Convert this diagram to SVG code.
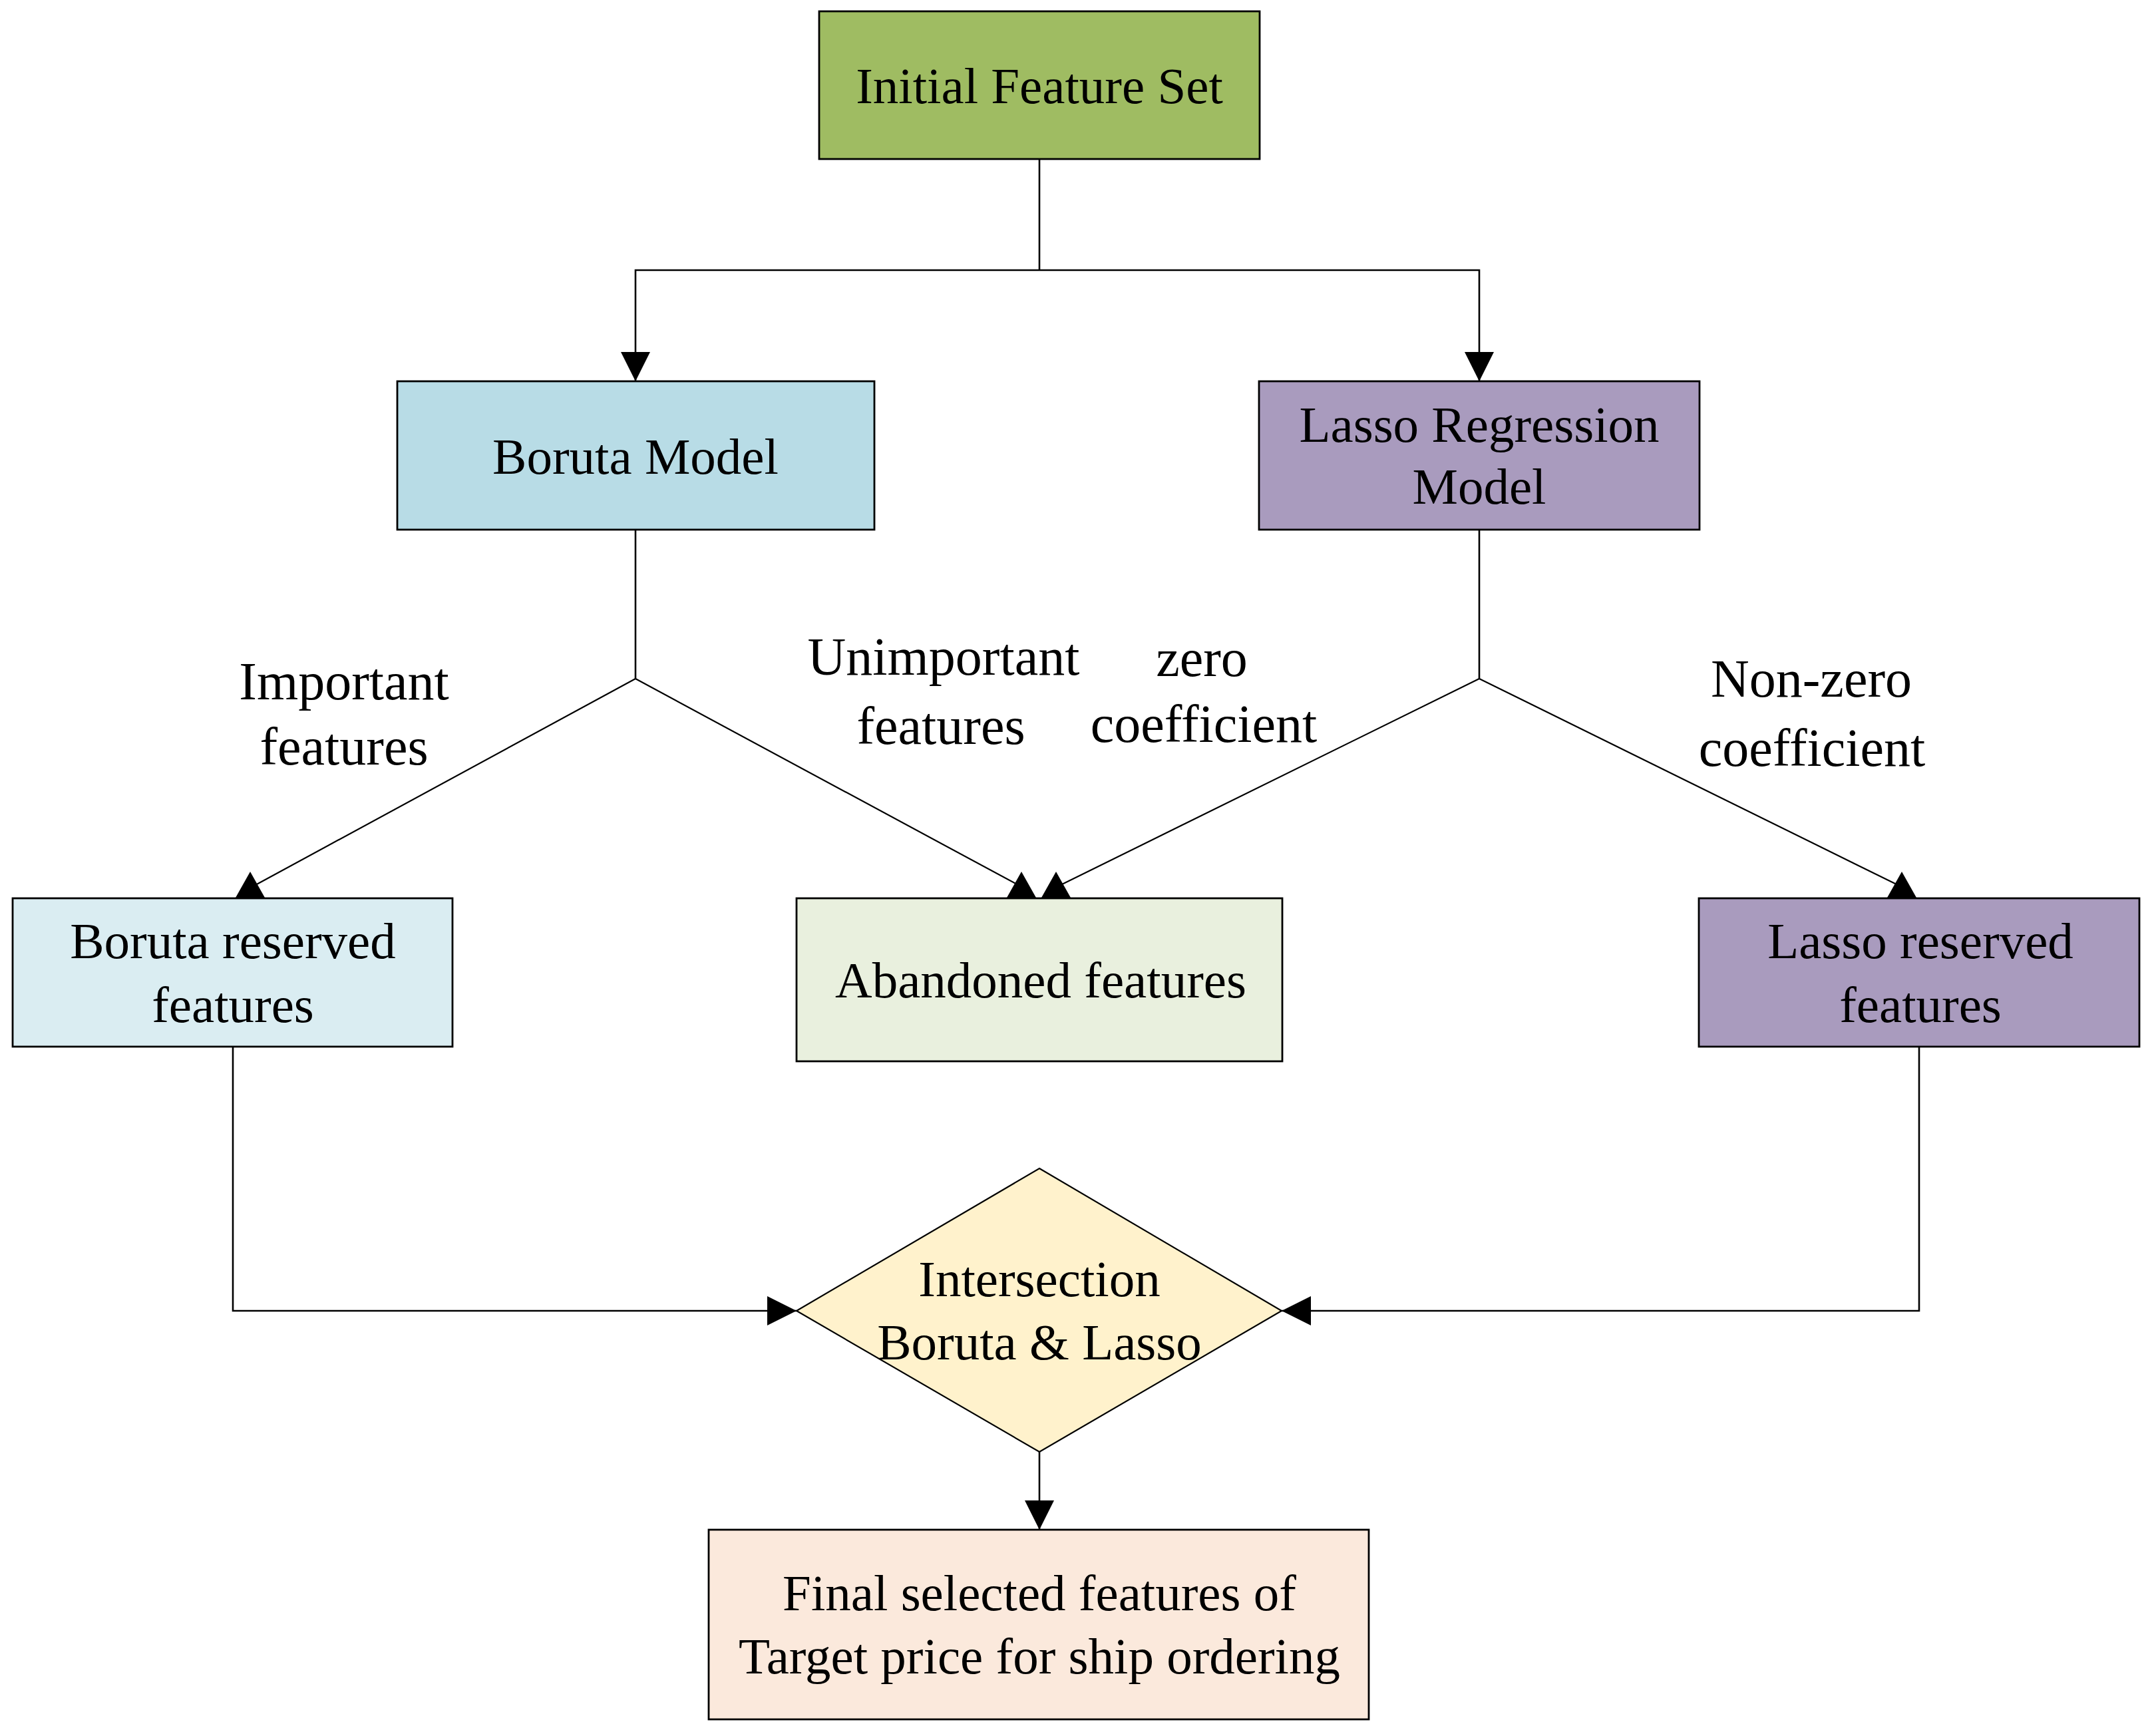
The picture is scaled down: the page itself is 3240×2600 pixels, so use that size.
<svg xmlns="http://www.w3.org/2000/svg" xmlns:xlink="http://www.w3.org/1999/xlink" width="3240" height="2600" viewBox="0 0 3240 2600">
<style>
.box{stroke:#000;stroke-width:2.8}
.t{font-family:"Liberation Serif","Times New Roman",serif;font-size:77px;fill:#000;text-anchor:middle}
.lbl{font-family:"Liberation Serif","Times New Roman",serif;font-size:80px;fill:#000;text-anchor:middle}
.ln{fill:none;stroke:#000;stroke-width:2.6}
.dg{fill:none;stroke:#000;stroke-width:2.2}
</style>
<defs>
<marker id="ah" markerUnits="userSpaceOnUse" markerWidth="44" markerHeight="44" refX="44" refY="22" orient="auto" viewBox="0 0 44 44">
<path d="M0,0 L44,22 L0,44 Z" fill="#000"/>
</marker>
<path id="tri" d="M0,0 L22.5,40 L-22.5,40 Z" fill="#000"/>
</defs>
<rect width="3240" height="2600" fill="#fff"/>
<g id="connectors">
<path class="ln" d="M1562,239 V406"/>
<path class="ln" d="M1562,406 H955 V573" marker-end="url(#ah)"/>
<path class="ln" d="M1562,406 H2223 V573" marker-end="url(#ah)"/>
<path class="ln" d="M955,796 V1020"/>
<path class="ln" d="M2223,796 V1020"/>
<path class="dg" d="M955,1020 L384,1330"/>
<path class="dg" d="M955,1020 L1530,1330"/>
<path class="dg" d="M2223,1020 L1594,1330"/>
<path class="dg" d="M2223,1020 L2852,1330"/>
<use xlink:href="#tri" x="376" y="1310"/>
<use xlink:href="#tri" x="1535" y="1310"/>
<use xlink:href="#tri" x="1587" y="1310"/>
<use xlink:href="#tri" x="2858" y="1310"/>
<path class="ln" d="M350,1573 V1970 H1197" marker-end="url(#ah)"/>
<path class="ln" d="M2884,1573 V1970 H1926" marker-end="url(#ah)"/>
<path class="ln" d="M1562,2182 V2299" marker-end="url(#ah)"/>
<text class="lbl" x="517" y="1051">Important</text>
<text class="lbl" x="517" y="1149">features</text>
<text class="lbl" x="1418" y="1014">Unimportant</text>
<text class="lbl" x="1414" y="1118">features</text>
<text class="lbl" x="1806" y="1016">zero</text>
<text class="lbl" x="1809" y="1115">coefficient</text>
<text class="lbl" x="2722" y="1047">Non-zero</text>
<text class="lbl" x="2723" y="1151">coefficient</text>
</g>
<g id="initial">
<rect class="box" x="1231" y="17" width="662" height="222" fill="#9FBC62"/>
<text class="t" x="1562" y="155">Initial Feature Set</text>
</g>
<g id="boruta-model">
<rect class="box" x="597" y="573" width="717" height="223" fill="#B8DCE6"/>
<text class="t" x="955" y="712">Boruta Model</text>
</g>
<g id="lasso-model">
<rect class="box" x="1892" y="573" width="662" height="223" fill="#A99BBE"/>
<text class="t" x="2223" y="664">Lasso Regression</text>
<text class="t" x="2223" y="757">Model</text>
</g>
<g id="boruta-reserved">
<rect class="box" x="19" y="1350" width="661" height="223" fill="#DAEDF2"/>
<text class="t" x="350" y="1440">Boruta reserved</text>
<text class="t" x="350" y="1536">features</text>
</g>
<g id="abandoned">
<rect class="box" x="1197" y="1350" width="730" height="245" fill="#E9F0DE"/>
<text class="t" x="1564" y="1499">Abandoned features</text>
</g>
<g id="lasso-reserved">
<rect class="box" x="2553" y="1350" width="662" height="223" fill="#A99BBE"/>
<text class="t" x="2886" y="1440">Lasso reserved</text>
<text class="t" x="2886" y="1536">features</text>
</g>
<g id="intersection">
<polygon class="box" points="1562,1756 1926,1970 1562,2182 1197,1970" fill="#FFF2CC" style="stroke-width:2.2"/>
<text class="t" x="1562" y="1948">Intersection</text>
<text class="t" x="1562" y="2043">Boruta &amp; Lasso</text>
</g>
<g id="final">
<rect class="box" x="1065" y="2299" width="992" height="285" fill="#FBE9DC"/>
<text class="t" x="1562" y="2420">Final selected features of</text>
<text class="t" x="1562" y="2515">Target price for ship ordering</text>
</g>
</svg>
